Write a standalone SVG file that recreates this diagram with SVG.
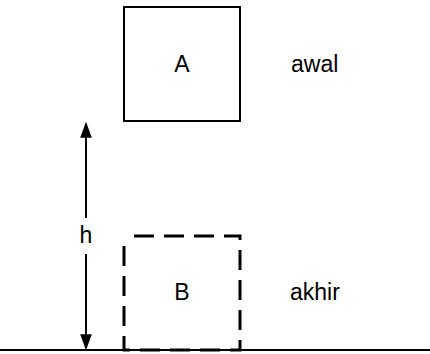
<svg xmlns="http://www.w3.org/2000/svg" width="430" height="354" viewBox="0 0 430 354">
<style>
text{font-family:"Liberation Sans",Arial,sans-serif;font-size:23px;fill:#000}
.box{fill:#fff;stroke:#000;stroke-width:2}
.dash{fill:none;stroke:#000;stroke-width:3;stroke-dasharray:20 10}
.ln{stroke:#000;stroke-width:2;fill:none}
</style>
<defs>
<marker id="ah" markerWidth="16" markerHeight="22" refX="16" refY="8" orient="auto" markerUnits="userSpaceOnUse" viewBox="0 0 22 16">
<path d="M0,0 L22,8 L0,16 Z" fill="#000"/>
</marker>
</defs>
<g id="connectors">
<line class="ln" x1="0" y1="350" x2="430" y2="350"/>
<path class="ln" d="M86,218 L86,126" marker-end="url(#ah)"/>
<path class="ln" d="M86,254 L86,346" marker-end="url(#ah)"/>
</g>
<g id="nodeA">
<rect class="box" x="124" y="7" width="116" height="114"/>
<text x="182" y="72" text-anchor="middle">A</text>
</g>
<g id="nodeB">
<rect class="dash" x="124" y="236" width="116" height="114" stroke-dashoffset="-10"/>
<text x="182" y="300" text-anchor="middle">B</text>
</g>
<g id="labels">
<text x="86" y="243" text-anchor="middle">h</text>
<text x="291" y="72">awal</text>
<text x="290" y="300">akhir</text>
</g>
</svg>
